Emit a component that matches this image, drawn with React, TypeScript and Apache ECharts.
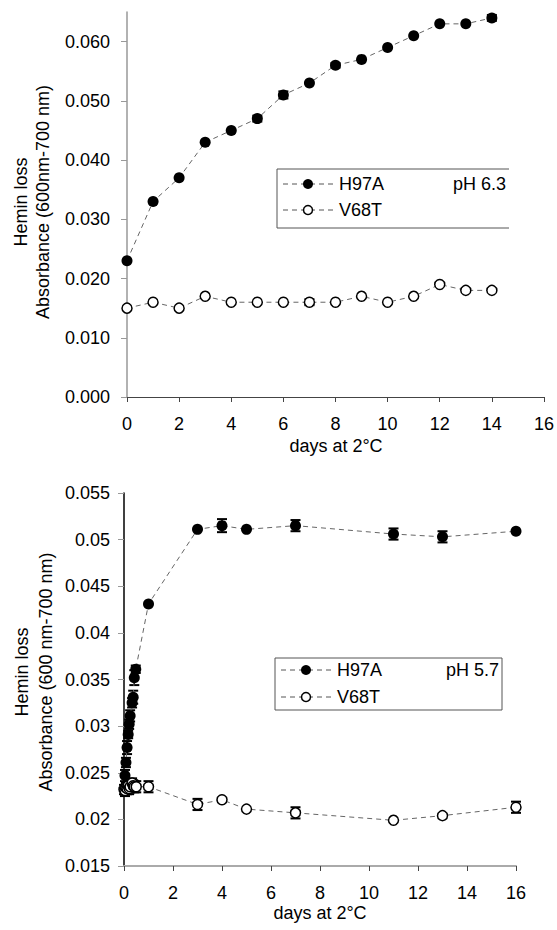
import React, { useEffect, useRef } from "react";
import * as echarts from "echarts";

// ---- Top panel (pH 6.3) ----
const topDays = [0, 1, 2, 3, 4, 5, 6, 7, 8, 9, 10, 11, 12, 13, 14];
const topH97A = [0.023, 0.033, 0.037, 0.043, 0.045, 0.047, 0.051, 0.053, 0.056, 0.057, 0.059, 0.061, 0.063, 0.063, 0.064];
const topH97AErr = [0, 0, 0, 0, 0, 0.0005, 0.0006, 0, 0.0004, 0, 0, 0, 0, 0, 0.0005];
const topV68T = [0.015, 0.016, 0.015, 0.017, 0.016, 0.016, 0.016, 0.016, 0.016, 0.017, 0.016, 0.017, 0.019, 0.018, 0.018];
const topV68TErr = [0, 0, 0, 0, 0, 0, 0, 0.0005, 0, 0, 0, 0, 0, 0, 0];

// ---- Bottom panel (pH 5.7) ----
const botH97ADays = [0.04, 0.08, 0.125, 0.17, 0.21, 0.25, 0.33, 0.375, 0.42, 0.48, 1, 3, 4, 5, 7, 11, 13, 16];
const botH97A = [0.0247, 0.0261, 0.0277, 0.0291, 0.0302, 0.0311, 0.0325, 0.0331, 0.0352, 0.0361, 0.0431, 0.0511, 0.0515, 0.0511, 0.0515, 0.0506, 0.0503, 0.0509];
const botH97AErr = [0.0006, 0.0005, 0.0007, 0.0004, 0.0005, 0.0006, 0.0005, 0.0007, 0.0008, 0.0004, 0, 0, 0.0007, 0, 0.0006, 0.0006, 0.0006, 0];
const botV68TDays = [0, 0.04, 0.08, 0.125, 0.17, 0.21, 0.25, 0.33, 0.375, 0.42, 0.5, 1, 3, 4, 5, 7, 11, 13, 16];
const botV68T = [0.0232, 0.0231, 0.0234, 0.0233, 0.0236, 0.0233, 0.0235, 0.0239, 0.0236, 0.0235, 0.0235, 0.0235, 0.0216, 0.0221, 0.0211, 0.0207, 0.0199, 0.0204, 0.0213];
const botV68TErr = [0.0005, 0.0006, 0.0005, 0.0006, 0.0005, 0.0006, 0.0006, 0.0005, 0.0006, 0.0006, 0.0006, 0.0006, 0.0006, 0, 0, 0.0006, 0, 0, 0.0006];

const xMin = 0;
const xMax = 16;
const xStep = 2;
const legendNames = ["H97A", "V68T"];
const panelLabels = ["pH 6.3", "pH 5.7"];
const yTitle1 = "Hemin loss";
const yTitleTop = "Absorbance (600nm-700 nm)";
const yTitleBot = "Absorbance (600 nm-700 nm)";
const xTitle = "days at 2°C";

const FONT = "'Liberation Sans', Arial, sans-serif";
const FS = 18;

function zip(xs: number[], ys: number[]) {
  return xs.map((x, i) => [x, ys[i]]);
}
function errData(xs: number[], ys: number[], es: number[]) {
  const out: number[][] = [];
  xs.forEach((x, i) => {
    if (es[i] > 0) out.push([x, ys[i] - es[i], ys[i] + es[i]]);
  });
  return out;
}

const errRender = (params: any, api: any) => {
  const x = api.value(0);
  const lo = api.coord([x, api.value(1)]);
  const hi = api.coord([x, api.value(2)]);
  const w = 5;
  const st = { stroke: "#000", lineWidth: 1.5 };
  return {
    type: "group",
    children: [
      { type: "line", shape: { x1: lo[0], y1: lo[1], x2: hi[0], y2: hi[1] }, style: st },
      { type: "line", shape: { x1: lo[0] - w, y1: lo[1], x2: lo[0] + w, y2: lo[1] }, style: { stroke: "#000", lineWidth: 2 } },
      { type: "line", shape: { x1: hi[0] - w, y1: hi[1], x2: hi[0] + w, y2: hi[1] }, style: { stroke: "#000", lineWidth: 2 } },
    ],
  };
};

function legendGraphic(left: number, right: number, top: number, bottom: number, row1: number, row2: number, label: string, closed: boolean) {
  const els: any[] = [];
  const border = { stroke: "#555", lineWidth: 1 };
  els.push({ type: "line", shape: { x1: left, y1: top, x2: right, y2: top }, style: border });
  els.push({ type: "line", shape: { x1: left, y1: top, x2: left, y2: bottom }, style: border });
  els.push({ type: "line", shape: { x1: left, y1: bottom, x2: right, y2: bottom }, style: border });
  if (closed) els.push({ type: "line", shape: { x1: right, y1: top, x2: right, y2: bottom }, style: border });
  const dash = { stroke: "#555", lineWidth: 1, lineDash: [5, 4] };
  [row1, row2].forEach((ry, i) => {
    els.push({ type: "line", shape: { x1: left + 6, y1: ry, x2: left + 56, y2: ry }, style: dash });
    els.push({
      type: "circle",
      shape: { cx: left + 31, cy: ry, r: i === 0 ? 5 : 4.5 },
      style: i === 0 ? { fill: "#000" } : { fill: "#fff", stroke: "#000", lineWidth: 1.5 },
    });
    els.push({
      type: "text",
      x: left + 62,
      y: ry,
      style: { text: legendNames[i], font: `${FS}px ${FONT}`, fill: "#000", align: "left", verticalAlign: "middle" },
    });
  });
  els.push({
    type: "text",
    x: right - 3,
    y: row1,
    style: { text: label, font: `${FS}px ${FONT}`, fill: "#000", align: "right", verticalAlign: "middle" },
  });
  return els;
}

function titleText(x: number, y: number, text: string, rot: boolean) {
  return {
    type: "text",
    x,
    y,
    rotation: rot ? Math.PI / 2 : 0,
    style: { text, font: `${FS}px ${FONT}`, fill: "#000", align: "center", verticalAlign: "middle" },
  };
}

export default function App() {
  const ref = useRef<HTMLDivElement>(null);
  useEffect(() => {
    if (!ref.current) return;
    const chart = echarts.init(ref.current, null, { renderer: "svg" });
    const labelStyle = { color: "#000", fontSize: FS, fontFamily: FONT };
    const lineDash = { type: [5, 4] as any, color: "#666", width: 1 };
    const filled = { color: "#000" };
    const open = { color: "#fff", borderColor: "#000", borderWidth: 1.5 };
    chart.setOption({
      animation: false,
      backgroundColor: "#fff",
      grid: [
        { left: 127, top: 12, width: 417, height: 385 },
        { left: 124, top: 493, width: 392, height: 373 },
      ],
      xAxis: [
        {
          gridIndex: 0, type: "value", min: xMin, max: xMax, interval: xStep,
          axisLine: { lineStyle: { color: "#444", width: 1 } },
          axisTick: { length: 5, lineStyle: { color: "#444" } },
          axisLabel: { ...labelStyle, margin: 18 },
          splitLine: { show: false },
        },
        {
          gridIndex: 1, type: "value", min: xMin, max: xMax, interval: xStep,
          axisLine: { lineStyle: { color: "#aaa", width: 2 } },
          axisTick: { length: 5, lineStyle: { color: "#444" } },
          axisLabel: { ...labelStyle, margin: 18 },
          splitLine: { show: false },
        },
      ],
      yAxis: [
        {
          gridIndex: 0, type: "value", min: 0, max: 0.065, interval: 0.01,
          axisLine: { show: true, lineStyle: { color: "#999", width: 1.5 } },
          axisTick: { show: true, length: 6, lineStyle: { color: "#999" } },
          axisLabel: { ...labelStyle, margin: 17, showMaxLabel: false, formatter: (v: number) => v.toFixed(3) },
          splitLine: { show: false },
        },
        {
          gridIndex: 1, type: "value", min: 0.015, max: 0.055, interval: 0.005,
          axisLine: { show: true, lineStyle: { color: "#000", width: 1.5 } },
          axisTick: { show: true, length: 6, lineStyle: { color: "#999" } },
          axisLabel: { ...labelStyle, margin: 14, formatter: (v: number) => String(parseFloat(v.toFixed(3))) },
          splitLine: { show: false },
        },
      ],
      series: [
        { type: "custom", xAxisIndex: 0, yAxisIndex: 0, renderItem: errRender, encode: { x: 0, y: [1, 2] }, data: errData(topDays, topH97A, topH97AErr), z: 1 },
        { type: "custom", xAxisIndex: 0, yAxisIndex: 0, renderItem: errRender, encode: { x: 0, y: [1, 2] }, data: errData(topDays, topV68T, topV68TErr), z: 1 },
        { type: "custom", xAxisIndex: 1, yAxisIndex: 1, renderItem: errRender, encode: { x: 0, y: [1, 2] }, data: errData(botH97ADays, botH97A, botH97AErr), z: 1 },
        { type: "custom", xAxisIndex: 1, yAxisIndex: 1, renderItem: errRender, encode: { x: 0, y: [1, 2] }, data: errData(botV68TDays, botV68T, botV68TErr), z: 1 },
        { name: "H97A", type: "line", xAxisIndex: 0, yAxisIndex: 0, data: zip(topDays, topH97A), symbol: "circle", symbolSize: 11, itemStyle: filled, lineStyle: lineDash, z: 3 },
        { name: "V68T", type: "line", xAxisIndex: 0, yAxisIndex: 0, data: zip(topDays, topV68T), symbol: "circle", symbolSize: 10, itemStyle: open, lineStyle: lineDash, z: 3 },
        { name: "H97A", type: "line", xAxisIndex: 1, yAxisIndex: 1, data: zip(botH97ADays, botH97A), symbol: "circle", symbolSize: 11, itemStyle: filled, lineStyle: lineDash, z: 3 },
        { name: "V68T", type: "line", xAxisIndex: 1, yAxisIndex: 1, data: zip(botV68TDays, botV68T), symbol: "circle", symbolSize: 10, itemStyle: open, lineStyle: lineDash, z: 2 },
      ],
      graphic: [
        ...legendGraphic(277, 509, 169, 228, 184, 210, panelLabels[0], false),
        ...legendGraphic(275, 502, 658, 710, 670, 697, panelLabels[1], true),
        titleText(21, 202, yTitle1, true),
        titleText(43, 202, yTitleTop, true),
        titleText(22, 672, yTitle1, true),
        titleText(46, 672, yTitleBot, true),
        titleText(336, 446, xTitle, false),
        titleText(320, 913, xTitle, false),
      ],
    });
    return () => chart.dispose();
  }, []);
  return <div ref={ref} style={{ position: "fixed", left: 0, top: 0, width: 557, height: 930, background: "#fff" }} />;
}
